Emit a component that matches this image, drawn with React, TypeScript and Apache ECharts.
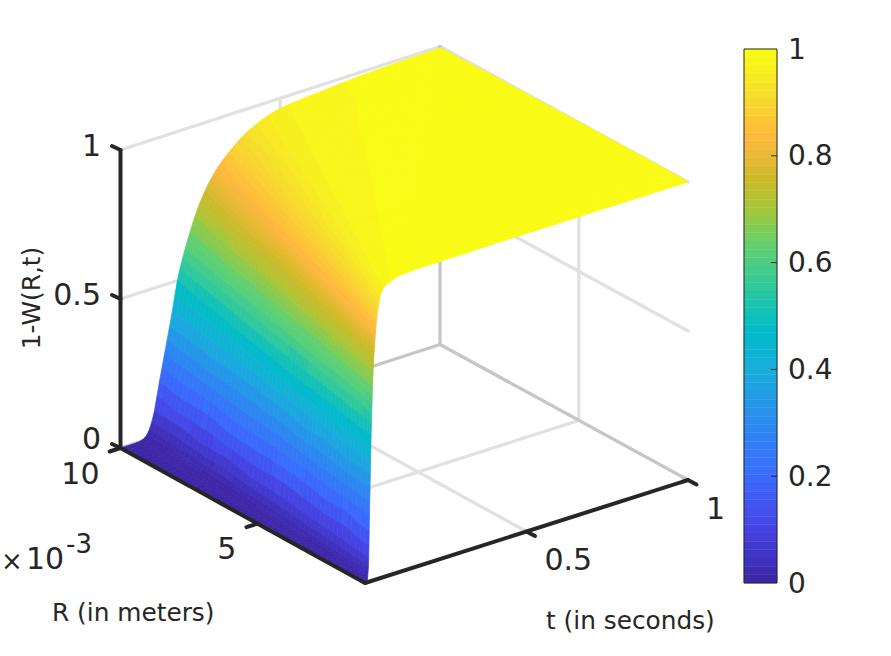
import React, { useEffect, useRef } from "react";
import * as echarts from "echarts";

// ---- data ----
const rValues = [1.07, 1.5, 2, 3, 4, 5, 6, 7, 8, 9, 10]; // in 1e-3 m
const tValues = [0, 0.005, 0.01, 0.015, 0.02, 0.025, 0.03, 0.04, 0.05, 0.06, 0.08, 0.1, 0.12, 0.14, 0.16, 0.18, 0.2, 0.25, 0.3, 0.35, 0.4, 0.5, 0.6, 0.8, 1];
const zR107 = [0, 0, 0.04, 0.28, 0.53, 0.695, 0.795, 0.905, 0.956, 0.973, 0.986, 0.993, 0.996, 0.997, 0.998, 0.998, 0.998, 0.999, 0.999, 0.999, 1, 1, 1, 1, 1];
const zR15 = [0, 0, 0.005, 0.06, 0.24, 0.43, 0.59, 0.775, 0.865, 0.92, 0.97, 0.981, 0.989, 0.993, 0.996, 0.997, 0.998, 0.999, 0.999, 1, 1, 1, 1, 1, 1];
const zR2 = [0, 0, 0, 0.012, 0.06, 0.2, 0.33, 0.59, 0.735, 0.826, 0.92, 0.966, 0.976, 0.983, 0.989, 0.992, 0.995, 0.998, 0.999, 0.999, 1, 1, 1, 1, 1];
const zR3 = [0, 0, 0, 0, 0.005, 0.022, 0.06, 0.24, 0.43, 0.59, 0.775, 0.865, 0.92, 0.956, 0.97, 0.976, 0.981, 0.99, 0.995, 0.997, 0.998, 0.999, 1, 1, 1];
const zR4 = [0, 0, 0, 0, 0, 0.003, 0.012, 0.06, 0.2, 0.33, 0.59, 0.735, 0.826, 0.88, 0.92, 0.95, 0.966, 0.979, 0.986, 0.992, 0.995, 0.998, 0.999, 1, 1];
const zR5 = [0, 0, 0, 0, 0, 0, 0.002, 0.018, 0.06, 0.17, 0.39, 0.59, 0.71, 0.797, 0.85, 0.89, 0.92, 0.966, 0.976, 0.983, 0.989, 0.995, 0.997, 0.999, 1];
const zR6 = [0, 0, 0, 0, 0, 0, 0, 0.005, 0.022, 0.06, 0.24, 0.43, 0.59, 0.695, 0.775, 0.826, 0.865, 0.93, 0.966, 0.974, 0.981, 0.99, 0.995, 0.998, 0.999];
const zR7 = [0, 0, 0, 0, 0, 0, 0, 0.001, 0.008, 0.026, 0.13, 0.295, 0.455, 0.59, 0.68, 0.75, 0.806, 0.885, 0.94, 0.966, 0.974, 0.984, 0.991, 0.996, 0.998];
const zR8 = [0, 0, 0, 0, 0, 0, 0, 0, 0.003, 0.012, 0.06, 0.2, 0.33, 0.48, 0.59, 0.665, 0.735, 0.84, 0.905, 0.945, 0.966, 0.979, 0.986, 0.995, 0.998];
const zR9 = [0, 0, 0, 0, 0, 0, 0, 0, 0.001, 0.005, 0.032, 0.115, 0.24, 0.365, 0.495, 0.59, 0.66, 0.79, 0.865, 0.915, 0.948, 0.973, 0.981, 0.992, 0.996];
const zR10 = [0, 0, 0, 0, 0, 0, 0, 0, 0, 0.001, 0.012, 0.06, 0.17, 0.28, 0.39, 0.51, 0.59, 0.74, 0.83, 0.885, 0.925, 0.966, 0.976, 0.99, 0.995];
const zRows = [zR107, zR15, zR2, zR3, zR4, zR5, zR6, zR7, zR8, zR9, zR10];

const rTicks = [5, 10];
const tTicks = [0.5, 1];
const zTicks = [0, 0.5, 1];
const rTickLabels = ["5", "10"];
const tTickLabels = ["0.5", "1"];
const zTickLabels = ["0", "0.5", "1"];
const colorbarTicks = [0, 0.2, 0.4, 0.6, 0.8, 1];

const parulaPos = [0, 0.1, 0.2, 0.3, 0.4, 0.47, 0.55, 0.63, 0.7, 0.76, 0.84, 0.92, 1];
const parulaHex = ["#3e26a8", "#4545e6", "#3a6dfe", "#2a8bef", "#18aedb", "#00bbc9", "#2bc8a0", "#5fd073", "#a2c83c", "#cdba29", "#feb83c", "#f7dd2b", "#f9fb15"];
const LEVELS = 64;

// ---- view: where the corners of the 3D box fall on the page ----
const R_MIN = 1.07, R_MAX = 10;
const nearNear = [365, 583], nearFar = [688, 480], farNear = [120.5, 448], farFar = [440, 344.5];
const Z_PX = 298;
function project(R: number, t: number, z: number): [number, number] {
  const f = (R - R_MIN) / (R_MAX - R_MIN);
  const x = (1 - f) * ((1 - t) * nearNear[0] + t * nearFar[0]) + f * ((1 - t) * farNear[0] + t * farFar[0]);
  const y = (1 - f) * ((1 - t) * nearNear[1] + t * nearFar[1]) + f * ((1 - t) * farNear[1] + t * farFar[1]);
  return [x, y - z * Z_PX];
}

function hexRgb(h: string) {
  return [parseInt(h.slice(1, 3), 16), parseInt(h.slice(3, 5), 16), parseInt(h.slice(5, 7), 16)];
}
function colourAt(v: number) {
  let i = 0;
  while (i < parulaPos.length - 2 && v > parulaPos[i + 1]) i++;
  const k = Math.min(1, Math.max(0, (v - parulaPos[i]) / (parulaPos[i + 1] - parulaPos[i])));
  const a = hexRgb(parulaHex[i]), b = hexRgb(parulaHex[i + 1]);
  return `rgb(${a.map((c, j) => Math.round(c + (b[j] - c) * k)).join(",")})`;
}
const levelColours = Array.from({ length: LEVELS }, (_, i) => colourAt(i / (LEVELS - 1)));
const colourOf = (z: number) => levelColours[Math.min(LEVELS - 1, Math.max(0, Math.floor(z * LEVELS)))];

const INK = "#262626";
const TICK_FONT = "30px 'DejaVu Sans'";
const TITLE_FONT = "24.8px 'DejaVu Sans'";

const GRID = "#e1e1e1", EDGE = "#c6c6c6";
const wallLines: any[] = [
  [R_MAX, 0, 1, R_MAX, 1, 1, GRID], [R_MAX, 1, 1, R_MIN, 1, 1, GRID],
  [R_MAX, 0, 0.5, R_MAX, 1, 0.5, GRID], [R_MAX, 1, 0.5, R_MIN, 1, 0.5, GRID],
  [R_MAX, 0.5, 0, R_MAX, 0.5, 1, GRID], [R_MAX, 0.5, 0, R_MIN, 0.5, 0, GRID],
  [5, 1, 0, 5, 1, 1, GRID], [5, 1, 0, 5, 0, 0, GRID],
  [R_MAX, 0, 0, R_MAX, 1, 0, EDGE], [R_MAX, 1, 0, R_MIN, 1, 0, EDGE], [R_MAX, 1, 0, R_MAX, 1, 1, EDGE],
];

// ---- smooth reading of the z table: monotone cubic along each row, and
// between rows along the lines on which the picture's colour bands run ----
const slopes = zRows.map((row) => {
  const h = tValues.slice(1).map((t, i) => t - tValues[i]);
  const d = h.map((w, i) => (row[i + 1] - row[i]) / w);
  return row.map((_, i) => {
    if (i === 0) return d[0];
    if (i === row.length - 1) return d[d.length - 1];
    if (d[i - 1] * d[i] <= 0) return 0;
    const w1 = 2 * h[i] + h[i - 1], w2 = h[i] + 2 * h[i - 1];
    return (w1 + w2) / (w1 / d[i - 1] + w2 / d[i]);
  });
});
function rowValue(i: number, t: number) {
  if (t <= 0) return zRows[i][0];
  if (t >= 1) return zRows[i][zRows[i].length - 1];
  let j = 0;
  while (j < tValues.length - 2 && t > tValues[j + 1]) j++;
  const h = tValues[j + 1] - tValues[j], s = (t - tValues[j]) / h;
  const y0 = zRows[i][j], y1 = zRows[i][j + 1], m0 = slopes[i][j] * h, m1 = slopes[i][j + 1] * h;
  return (2 * s ** 3 - 3 * s ** 2 + 1) * y0 + (s ** 3 - 2 * s ** 2 + s) * m0 + (-2 * s ** 3 + 3 * s ** 2) * y1 + (s ** 3 - s ** 2) * m1;
}
function surfaceZ(R: number, t: number) {
  let i = 0;
  while (i < rValues.length - 2 && R > rValues[i + 1]) i++;
  const u = (R - rValues[i]) / (rValues[i + 1] - rValues[i]);
  return (1 - u) * rowValue(i, (t * rValues[i]) / R) + u * rowValue(i + 1, (t * rValues[i + 1]) / R);
}

// drawing mesh: fan of lines t = s * R / R_MAX, far to near
const fanSteps: number[] = [0];
for (let s = 0.05; s < 1; s += 0.008) fanSteps.push(s);
for (let s = 1; s < R_MAX / R_MIN; s += 0.5) fanSteps.push(s);
fanSteps.push(R_MAX / R_MIN);
const R_STRIPS = 48;
const cells: number[][] = [];
for (let i = R_STRIPS - 1; i >= 0; i--) for (let j = fanSteps.length - 2; j >= 0; j--) cells.push([i, j]);

function renderSurface(_p: any, api: any) {
  const i = api.value(0), j = api.value(1);
  const at = (a: number, b: number) => {
    const R = R_MIN + ((R_MAX - R_MIN) * a) / R_STRIPS;
    const t = Math.min(1, (fanSteps[b] * R) / R_MAX);
    const z = surfaceZ(R, t);
    return { z, p: api.coord(project(R, t, z)) };
  };
  const c = [at(i, j), at(i, j + 1), at(i + 1, j + 1), at(i + 1, j)];
  const fill = colourOf((c[0].z + c[1].z + c[2].z + c[3].z) / 4);
  return { type: "polygon", shape: { points: c.map((q) => q.p) }, style: { fill, stroke: fill, lineWidth: 0.7 }, silent: true };
}

function lineEl(api: any, a: [number, number], b: [number, number], stroke: string, lineWidth: number) {
  const p = api.coord(a), q = api.coord(b);
  return { type: "line", shape: { x1: p[0], y1: p[1], x2: q[0], y2: q[1] }, style: { stroke, lineWidth, lineCap: "round" }, silent: true };
}

function renderWall(_p: any, api: any) {
  const l = wallLines[api.value(0)];
  return lineEl(api, project(l[0], l[1], l[2]), project(l[3], l[4], l[5]), l[6], 3.3);
}

type Piece = { kind: "line" | "text"; from?: [number, number]; to?: [number, number]; w?: number; text?: string; at?: [number, number]; align?: string; font?: string };
const pieces: Piece[] = [];
const addLine = (from: [number, number], to: [number, number], w = 4) => pieces.push({ kind: "line", from, to, w });
const addText = (text: string, at: [number, number], align: string, font: string) => pieces.push({ kind: "text", text, at, align, font });
addLine(project(R_MIN, 0, 0), project(R_MAX, 0, 0));
addLine(project(R_MIN, 0, 0), project(R_MIN, 1, 0));
addLine(project(R_MAX, 0, 0), project(R_MAX, 0, 1));
rTicks.forEach((r, k) => {
  const p = project(r, 0, 0);
  addLine(p, project(r, -0.034, 0));
  addText(rTickLabels[k], [p[0] - 21, p[1] + 25], "right", TICK_FONT);
});
tTicks.forEach((t, k) => {
  const p = project(R_MIN, t, 0);
  addLine(p, [p[0] + 8.5, p[1] + 4.5]);
  addText(tTickLabels[k], [p[0] + 18, p[1] + 28], "left", TICK_FONT);
});
const zLabelLift = [-10, -5, -5];
zTicks.forEach((z, k) => {
  const p = project(R_MAX, 0, z);
  addLine(p, [p[0] - 8.5, p[1] - 4]);
  addText(zTickLabels[k], [101, p[1] + zLabelLift[k]], "right", TICK_FONT);
});

function renderAxes(_p: any, api: any) {
  const e = pieces[api.value(0)];
  if (e.kind === "line") return lineEl(api, e.from!, e.to!, INK, e.w!);
  const p = api.coord(e.at!);
  return { type: "text", x: p[0], y: p[1], style: { text: e.text, font: e.font, fill: INK, textAlign: e.align, textVerticalAlign: "middle" }, silent: true };
}

function renderBand(_p: any, api: any) {
  const i = api.value(0);
  const a = api.coord([0, i / LEVELS]), b = api.coord([1, (i + 1) / LEVELS]);
  return {
    type: "rect",
    shape: { x: a[0], y: b[1], width: b[0] - a[0], height: a[1] - b[1] },
    style: { fill: levelColours[i], stroke: levelColours[i], lineWidth: 0.4 },
    silent: true,
  };
}

function renderBarTick(_p: any, api: any) {
  const p = api.coord([1, api.value(0)]);
  return { type: "line", shape: { x1: p[0] - 6, y1: p[1], x2: p[0], y2: p[1] }, style: { stroke: INK, lineWidth: 1 }, silent: true };
}

const titleText = (text: string, x: number, y: number, extra: any = {}) => ({
  type: "text", x, y, silent: true, rotation: extra.rotation,
  style: { text, font: extra.font || TITLE_FONT, fill: INK, textAlign: extra.align || "left", textVerticalAlign: "middle" },
});

export default function App() {
  const ref = useRef<HTMLDivElement>(null);
  useEffect(() => {
    const chart = echarts.init(ref.current!, undefined, { renderer: "svg" });
    chart.setOption({
      animation: false,
      backgroundColor: "#fff",
      grid: [
        { left: 0, top: 0, width: 891, height: 656, show: false },
        { left: 744, top: 49, width: 33, height: 534, show: false },
      ],
      xAxis: [
        { type: "value", min: 0, max: 891, show: false, gridIndex: 0 },
        { type: "value", min: 0, max: 1, gridIndex: 1, show: false },
      ],
      yAxis: [
        { type: "value", min: 0, max: 656, inverse: true, show: false, gridIndex: 0 },
        {
          type: "value", min: 0, max: 1, interval: 0.2, gridIndex: 1, position: "right",
          axisLine: { show: false },
          axisTick: { show: false },
          splitLine: { show: false },
          axisLabel: { color: INK, fontSize: 28, fontFamily: "DejaVu Sans", margin: 11, customValues: colorbarTicks },
        },
      ],
      series: [
        { type: "custom", coordinateSystem: "cartesian2d", xAxisIndex: 0, yAxisIndex: 0, clip: false, silent: true, z: 1, data: wallLines.map((_, i) => [i]), renderItem: renderWall },
        { type: "custom", coordinateSystem: "cartesian2d", xAxisIndex: 0, yAxisIndex: 0, clip: false, silent: true, z: 2, data: cells, renderItem: renderSurface },
        { type: "custom", coordinateSystem: "cartesian2d", xAxisIndex: 0, yAxisIndex: 0, clip: false, silent: true, z: 3, data: pieces.map((_, i) => [i]), renderItem: renderAxes },
        { type: "custom", coordinateSystem: "cartesian2d", xAxisIndex: 1, yAxisIndex: 1, clip: false, silent: true, z: 1, data: levelColours.map((_, i) => [i]), renderItem: renderBand },
        { type: "custom", coordinateSystem: "cartesian2d", xAxisIndex: 1, yAxisIndex: 1, clip: false, silent: true, z: 4, data: colorbarTicks.slice(1, -1).map((v) => [v]), renderItem: renderBarTick },
      ],
      graphic: [
        titleText("R (in meters)", 52, 612),
        titleText("t (in seconds)", 546, 620),
        titleText("1-W(R,t)", 31, 298, { rotation: Math.PI / 2, align: "center" }),
        titleText("\u00d7", 1, 561, { font: "26px 'DejaVu Sans'" }),
        titleText("10", 26, 558, { font: TICK_FONT }),
        titleText("-3", 66, 544, { font: "26px 'DejaVu Sans'" }),
        { type: "rect", silent: true, z: 10, shape: { x: 744, y: 49, width: 33, height: 534 }, style: { fill: "none", stroke: INK, lineWidth: 1 } },
      ],
    });
    return () => chart.dispose();
  }, []);
  return <div ref={ref} style={{ position: "absolute", left: 0, top: 0, width: 891, height: 656 }} />;
}
